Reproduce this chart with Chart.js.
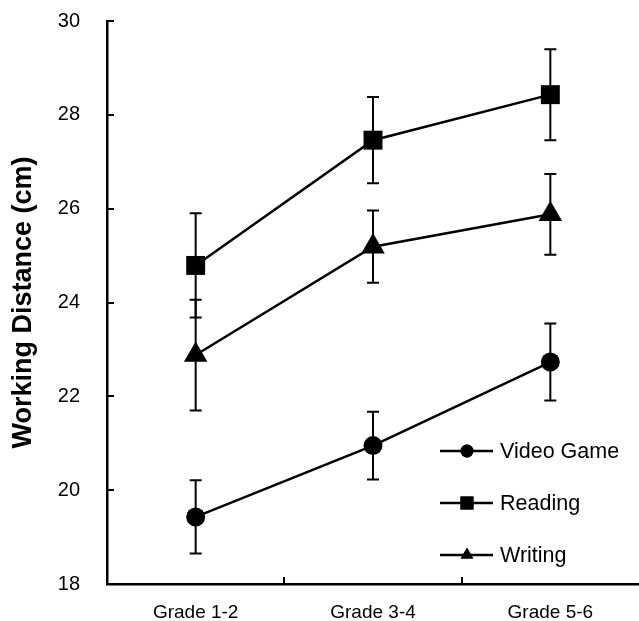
<!DOCTYPE html>
<html>
<head>
<meta charset="utf-8">
<script src="https://cdn.jsdelivr.net/npm/chart.js@4/dist/chart.umd.min.js"></script>
<style>
  html, body { margin: 0; padding: 0; background: #fff; overflow: hidden; }
  canvas { display: block; }
</style>
</head>
<body>
<canvas id="chart" width="639" height="621"></canvas>
<script>
let grades = ["Grade 1-2", "Grade 3-4", "Grade 5-6"];
let seriesNames = ["Video Game", "Reading", "Writing"];
let videoGame = [19.43, 20.95, 22.73];
let reading = [24.79, 27.46, 28.43];
let writing = [22.88, 25.19, 25.88];
let videoGameErr = [0.78, 0.72, 0.82];
let readingErr = [1.11, 0.92, 0.97];
let writingErr = [1.18, 0.77, 0.86];
let yTicks = [18, 20, 22, 24, 26, 28, 30];

const FONT = "'Liberation Sans', Arial, Helvetica, sans-serif";
let errors = [videoGameErr, readingErr, writingErr];

// error bars behind the markers
const errorBars = {
  id: "errorBars",
  beforeDatasetsDraw(chart) {
    const ctx = chart.ctx;
    const y = chart.scales.y;
    ctx.save();
    ctx.strokeStyle = "#000";
    ctx.lineWidth = 2;
    chart.data.datasets.forEach((ds, i) => {
      chart.getDatasetMeta(i).data.forEach((pt, j) => {
        const top = y.getPixelForValue(ds.data[j] + errors[i][j]);
        const bot = y.getPixelForValue(ds.data[j] - errors[i][j]);
        ctx.beginPath();
        ctx.moveTo(pt.x, top);
        ctx.lineTo(pt.x, bot);
        ctx.moveTo(pt.x - 6, top);
        ctx.lineTo(pt.x + 6, top);
        ctx.moveTo(pt.x - 6, bot);
        ctx.lineTo(pt.x + 6, bot);
        ctx.stroke();
      });
    });
    ctx.restore();
  }
};

// tick marks pointing into the plot
const innerTicks = {
  id: "innerTicks",
  afterDraw(chart) {
    const ctx = chart.ctx;
    const x = chart.scales.x;
    const y = chart.scales.y;
    const area = chart.chartArea;
    ctx.save();
    ctx.strokeStyle = "#000";
    ctx.lineWidth = 2;
    ctx.beginPath();
    yTicks.forEach(v => {
      const py = Math.round(y.getPixelForValue(v));
      ctx.moveTo(area.left, py);
      ctx.lineTo(area.left + 7, py);
    });
    for (let i = 0; i < grades.length - 1; i++) {
      const px = Math.round((x.getPixelForValue(i) + x.getPixelForValue(i + 1)) / 2);
      ctx.moveTo(px, area.bottom);
      ctx.lineTo(px, area.bottom - 7);
    }
    ctx.stroke();
    ctx.restore();
  }
};

// legend inside the plot, lower right
const innerLegend = {
  id: "innerLegend",
  afterDraw(chart) {
    const ctx = chart.ctx;
    const area = chart.chartArea;
    const x0 = area.left + 333;
    const legendRadius = [6.5, 9.2, 7.2];
    ctx.save();
    chart.data.datasets.forEach((ds, i) => {
      const yy = area.bottom - 133 + i * 52;
      ctx.strokeStyle = "#000";
      ctx.lineWidth = 2.5;
      ctx.beginPath();
      ctx.moveTo(x0, yy);
      ctx.lineTo(x0 + 53, yy);
      ctx.stroke();
      ctx.fillStyle = "#000";
      Chart.helpers.drawPoint(ctx, {
        pointStyle: ds.pointStyle,
        rotation: 0,
        radius: legendRadius[i],
        borderWidth: 0
      }, x0 + 27, yy);
      ctx.fill();
      ctx.font = "21.5px " + FONT;
      ctx.textBaseline = "middle";
      ctx.textAlign = "left";
      ctx.fillText(ds.label, x0 + 60, yy + 1);
    });
    ctx.restore();
  }
};

function makeSet(label, data, style, radius) {
  return {
    label: label,
    data: data,
    borderColor: "#000",
    backgroundColor: "#000",
    borderWidth: 2.5,
    pointStyle: style,
    pointRadius: radius,
    pointHoverRadius: radius,
    pointBackgroundColor: "#000",
    pointBorderColor: "#000",
    pointBorderWidth: 0,
    tension: 0,
    clip: false
  };
}

new Chart(document.getElementById("chart"), {
  type: "line",
  data: {
    labels: grades,
    datasets: [
      makeSet(seriesNames[0], videoGame, "circle", 9.5),
      makeSet(seriesNames[1], reading, "rect", 13.4),
      makeSet(seriesNames[2], writing, "triangle", 13.6)
    ]
  },
  options: {
    responsive: false,
    animation: false,
    devicePixelRatio: 1,
    // no auto padding: the big markers would otherwise shrink the plot
    layout: { autoPadding: false, padding: { top: 21, right: -3, bottom: 0, left: 0 } },
    plugins: {
      legend: { display: false },
      tooltip: { enabled: false }
    },
    scales: {
      x: {
        offset: true,
        grid: { display: false, drawTicks: false },
        border: { display: true, color: "#000", width: 2.5 },
        ticks: {
          color: "#000",
          padding: 17,
          font: { family: FONT, size: 19 }
        },
        afterFit(scale) {
          scale.height = 37;
          scale.paddingLeft = 0;
          scale.paddingRight = 0;
        }
      },
      y: {
        min: yTicks[0],
        max: yTicks[yTicks.length - 1],
        grid: { display: false, drawTicks: false },
        border: { display: true, color: "#000", width: 2.5 },
        afterBuildTicks(scale) {
          scale.ticks = yTicks.map(v => ({ value: v }));
        },
        ticks: {
          color: "#000",
          padding: 27,
          font: { family: FONT, size: 20 }
        },
        title: {
          display: true,
          text: "Working Distance (cm)",
          color: "#000",
          padding: { top: 7, bottom: 0 },
          font: { family: FONT, size: 27, weight: "bold" }
        },
        afterFit(scale) {
          scale.width = 107;
          // tick padding would otherwise push the plot down
          scale.paddingTop = 0;
          scale.paddingBottom = 0;
        }
      }
    }
  },
  plugins: [errorBars, innerTicks, innerLegend]
});
</script>
</body>
</html>
